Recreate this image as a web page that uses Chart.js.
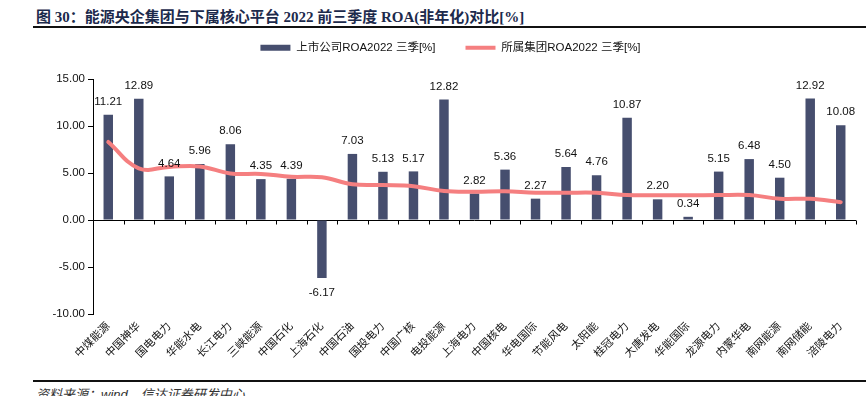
<!DOCTYPE html>
<html>
<head>
<meta charset="utf-8">
<script src="https://cdn.jsdelivr.net/npm/chart.js@4/dist/chart.umd.min.js"></script>
<style>
  body { margin: 0; width: 866px; height: 396px; overflow: hidden; background: #fff; position: relative; font-family: "Liberation Sans", Arial, "Noto Sans CJK SC", sans-serif; }
  #title { position: absolute; left: 36px; top: 5px; font-size: 15px; font-weight: bold; color: #1c2a4c; font-family: "Liberation Serif", "Noto Sans CJK SC", serif; white-space: nowrap; }
  #topline { position: absolute; left: 33px; top: 26px; width: 833px; height: 2px; background: #111; }
  #box { position: absolute; left: 0; top: 12px; width: 866px; height: 368px; }
  #bottomline { position: absolute; left: 33px; top: 380px; width: 833px; height: 2px; background: #111; }
  #source { position: absolute; left: 36px; top: 384px; font-size: 13px; font-style: italic; color: #333; white-space: nowrap; }
</style>
</head>
<body>
<div id="title">图 30：能源央企集团与下属核心平台 2022 前三季度 ROA(非年化)对比[%]</div>
<div id="topline"></div>
<div id="box"><canvas id="chart"></canvas></div>
<div id="bottomline"></div>
<div id="source">资料来源：wind，信达证券研发中心</div>
<script>
// data
const companies = ['中煤能源', '中国神华', '国电电力', '华能水电', '长江电力', '三峡能源', '中国石化', '上海石化', '中国石油',
  '国投电力', '中国广核', '电投能源', '上海电力', '中国核电', '华电国际', '节能风电', '太阳能', '桂冠电力', '大唐发电',
  '华能国际', '龙源电力', '内蒙华电', '南网能源', '南网储能', '涪陵电力'];
const listedRoa = [11.21, 12.89, 4.64, 5.96, 8.06, 4.35, 4.39, -6.17, 7.03, 5.13, 5.17, 12.82, 2.82, 5.36, 2.27, 5.64,
  4.76, 10.87, 2.20, 0.34, 5.15, 6.48, 4.50, 12.92, 10.08];
const groupRoa = [8.3, 5.5, 5.65, 5.7, 4.95, 4.9, 4.6, 4.55, 3.8, 3.72, 3.6, 3.08, 3.0, 3.05, 2.9, 2.9, 2.9, 2.65, 2.63,
  2.63, 2.65, 2.65, 2.27, 2.25, 1.9];
const yTicks = { min: -10, max: 15, step: 5 };

const barColor = '#464e6e';
const lineColor = '#f57f80';

Chart.defaults.font.family = '"Liberation Sans", Arial, "Noto Sans CJK SC", sans-serif';
Chart.defaults.color = '#000';

// zero line with category tick marks
const zeroAxis = {
  id: 'zeroAxis',
  beforeDatasetsDraw(chart) {
    const { ctx, chartArea, scales: { x, y } } = chart;
    const y0 = Math.round(y.getPixelForValue(0)) + 0.5;
    const half = (x.getPixelForValue(1) - x.getPixelForValue(0)) / 2;
    ctx.save();
    ctx.strokeStyle = '#000';
    ctx.lineWidth = 1;
    ctx.beginPath();
    ctx.moveTo(chartArea.left, y0);
    ctx.lineTo(chartArea.right, y0);
    for (let i = 0; i <= companies.length; i++) {
      const px = Math.round(x.getPixelForValue(i) - half) + 0.5;
      ctx.moveTo(px, y0);
      ctx.lineTo(px, y0 + 4);
    }
    ctx.stroke();
    ctx.restore();
  }
};

// value labels on the bars
const barLabels = {
  id: 'barLabels',
  afterDatasetsDraw(chart) {
    const { ctx } = chart;
    const idx = chart.data.datasets.findIndex(d => d.type === 'bar');
    const meta = chart.getDatasetMeta(idx);
    ctx.save();
    ctx.font = '11.5px "Liberation Sans", Arial, sans-serif';
    ctx.fillStyle = '#111';
    ctx.textAlign = 'center';
    ctx.textBaseline = 'middle';
    meta.data.forEach((bar, i) => {
      const v = listedRoa[i];
      const ty = v >= 0 ? bar.y - 13 : bar.y + 15;
      ctx.fillText(v.toFixed(2), bar.x, ty);
    });
    ctx.restore();
  }
};

// fixed legend height so the plot starts where it should
const legendHeight = {
  id: 'legendHeight',
  beforeLayout(chart) {
    const lg = chart.legend;
    if (lg && !lg._fixed) {
      const fit = lg.fit;
      lg.fit = function () { fit.call(this); this.height = 67; };
      lg._fixed = true;
    }
  }
};

new Chart(document.getElementById('chart'), {
  data: {
    labels: companies,
    datasets: [
      {
        type: 'line',
        label: '所属集团ROA2022 三季[%]',
        data: groupRoa,
        borderColor: lineColor,
        backgroundColor: lineColor,
        borderWidth: 4,
        borderCapStyle: 'round',
        pointRadius: 0,
        pointStyle: 'line',
        tension: 0.4
      },
      {
        type: 'bar',
        label: '上市公司ROA2022 三季[%]',
        data: listedRoa,
        backgroundColor: barColor,
        borderWidth: 0,
        pointStyle: 'rect',
        categoryPercentage: 1,
        barPercentage: 0.31
      }
    ]
  },
  options: {
    responsive: true,
    maintainAspectRatio: false,
    animation: false,
    layout: { padding: { left: 45, right: 10, top: 0, bottom: 0 } },
    plugins: {
      legend: {
        reverse: true,
        labels: {
          usePointStyle: true,
          pointStyleWidth: 30,
          boxHeight: 6,
          padding: 30,
          font: { size: 11.5 },
          color: '#111'
        }
      },
      tooltip: { enabled: false }
    },
    scales: {
      x: {
        grid: { display: false, drawTicks: false },
        border: { display: false },
        ticks: { autoSkip: false, minRotation: 45, maxRotation: 45, padding: 6, font: { size: 11 }, color: '#111' },
        afterFit(scale) { scale.height = 66; }
      },
      y: {
        min: yTicks.min,
        max: yTicks.max,
        grid: { drawOnChartArea: false, drawTicks: true, tickLength: 5, color: '#000' },
        border: { display: true, color: '#000' },
        ticks: { stepSize: yTicks.step, padding: 3, font: { size: 11.5 }, color: '#111', callback: v => v.toFixed(2) },
        afterFit(scale) { scale.width = 48; }
      }
    }
  },
  plugins: [zeroAxis, barLabels, legendHeight]
});
</script>
</body>
</html>
